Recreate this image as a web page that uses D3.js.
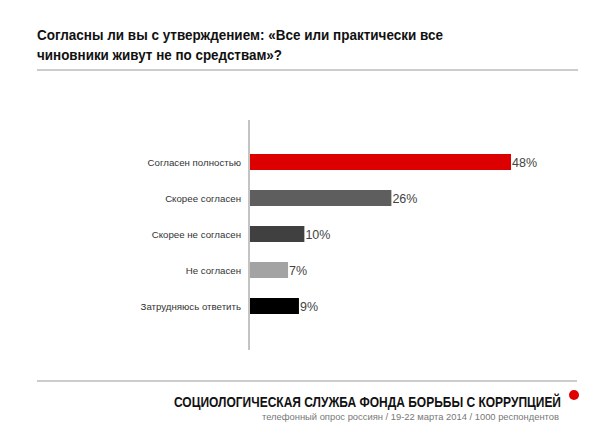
<!DOCTYPE html>
<html>
<head>
<meta charset="utf-8">
<script src="https://cdn.jsdelivr.net/npm/d3@7"></script>
<style>
  body { margin: 0; background: #fff; }
  svg { display: block; font-family: "Liberation Sans", Arial, sans-serif; }
</style>
</head>
<body>
<div id="chart"></div>
<script>
const categories = ["Согласен полностью", "Скорее согласен", "Скорее не согласен", "Не согласен", "Затрудняюсь ответить"];
const values = [48, 26, 10, 7, 9];
const colors = ["#dd0000", "#5e5e5e", "#404040", "#a3a3a3", "#000000"];

const titleLines = ["Согласны ли вы с утверждением: «Все или практически все", "чиновники живут не по средствам»?"];
const footerTitle = "СОЦИОЛОГИЧЕСКАЯ СЛУЖБА ФОНДА БОРЬБЫ С КОРРУПЦИЕЙ";
const footerNote = "телефонный опрос россиян / 19-22 марта 2014 / 1000 респондентов";

const width = 600, height = 445;
const barHeight = 16;

const svg = d3.select("#chart").append("svg")
    .attr("width", width)
    .attr("height", height);

// title
svg.append("text")
    .attr("x", 37).attr("y", 40)
    .attr("font-size", 15.5).attr("font-weight", "bold").attr("fill", "#111")
    .attr("textLength", 406).attr("lengthAdjust", "spacingAndGlyphs")
    .text(titleLines[0]);
svg.append("text")
    .attr("x", 37).attr("y", 60)
    .attr("font-size", 15.5).attr("font-weight", "bold").attr("fill", "#111")
    .attr("textLength", 245).attr("lengthAdjust", "spacingAndGlyphs")
    .text(titleLines[1]);

svg.append("line")
    .attr("x1", 37).attr("x2", 578).attr("y1", 70).attr("y2", 70)
    .attr("stroke", "#bbb").attr("stroke-width", 1.5);

// scales
const x = d3.scaleLinear()
    .domain([0, 48])
    .range([250, 511]);

const y = d3.scalePoint()
    .domain(categories)
    .range([162, 306]);

const data = categories.map((c, i) => ({name: c, value: values[i], color: colors[i]}));

svg.selectAll("rect.bar")
    .data(data)
    .enter().append("rect")
        .attr("class", "bar")
        .attr("x", x(0))
        .attr("y", d => y(d.name) - barHeight / 2)
        .attr("width", d => x(d.value) - x(0))
        .attr("height", barHeight)
        .attr("fill", d => d.color);

svg.selectAll("text.val")
    .data(data)
    .enter().append("text")
        .attr("class", "val")
        .attr("x", d => x(d.value) + 1)
        .attr("y", d => y(d.name) + 4.5)
        .attr("font-size", 12.5)
        .attr("fill", "#444")
        .text(d => d.value + "%");

// y axis with category labels
const yAxis = d3.axisLeft(y).tickSize(0).tickPadding(8);
const ag = svg.append("g")
    .attr("transform", "translate(249,0)")
    .call(yAxis);
ag.select(".domain").remove();
ag.selectAll("text")
    .attr("font-size", 9.7)
    .attr("font-family", "Liberation Sans, Arial, sans-serif")
    .attr("fill", "#333");

svg.append("line")
    .attr("x1", 249).attr("x2", 249).attr("y1", 120).attr("y2", 350)
    .attr("stroke", "#888").attr("stroke-width", 1);

// footer
svg.append("line")
    .attr("x1", 37).attr("x2", 577).attr("y1", 381).attr("y2", 381)
    .attr("stroke", "#bbb").attr("stroke-width", 1.5);

// condensed look: smaller font stretched vertically
svg.append("text")
    .attr("transform", "translate(174,407) scale(1,1.18)")
    .attr("font-size", 12.3).attr("font-weight", "bold").attr("fill", "#111")
    .attr("textLength", 387).attr("lengthAdjust", "spacingAndGlyphs")
    .text(footerTitle);

svg.append("circle")
    .attr("cx", 574).attr("cy", 395).attr("r", 5)
    .attr("fill", "#e00000");

svg.append("text")
    .attr("x", 262).attr("y", 420)
    .attr("font-size", 9.5).attr("fill", "#777")
    .attr("textLength", 297).attr("lengthAdjust", "spacingAndGlyphs")
    .text(footerNote);
</script>
</body>
</html>
